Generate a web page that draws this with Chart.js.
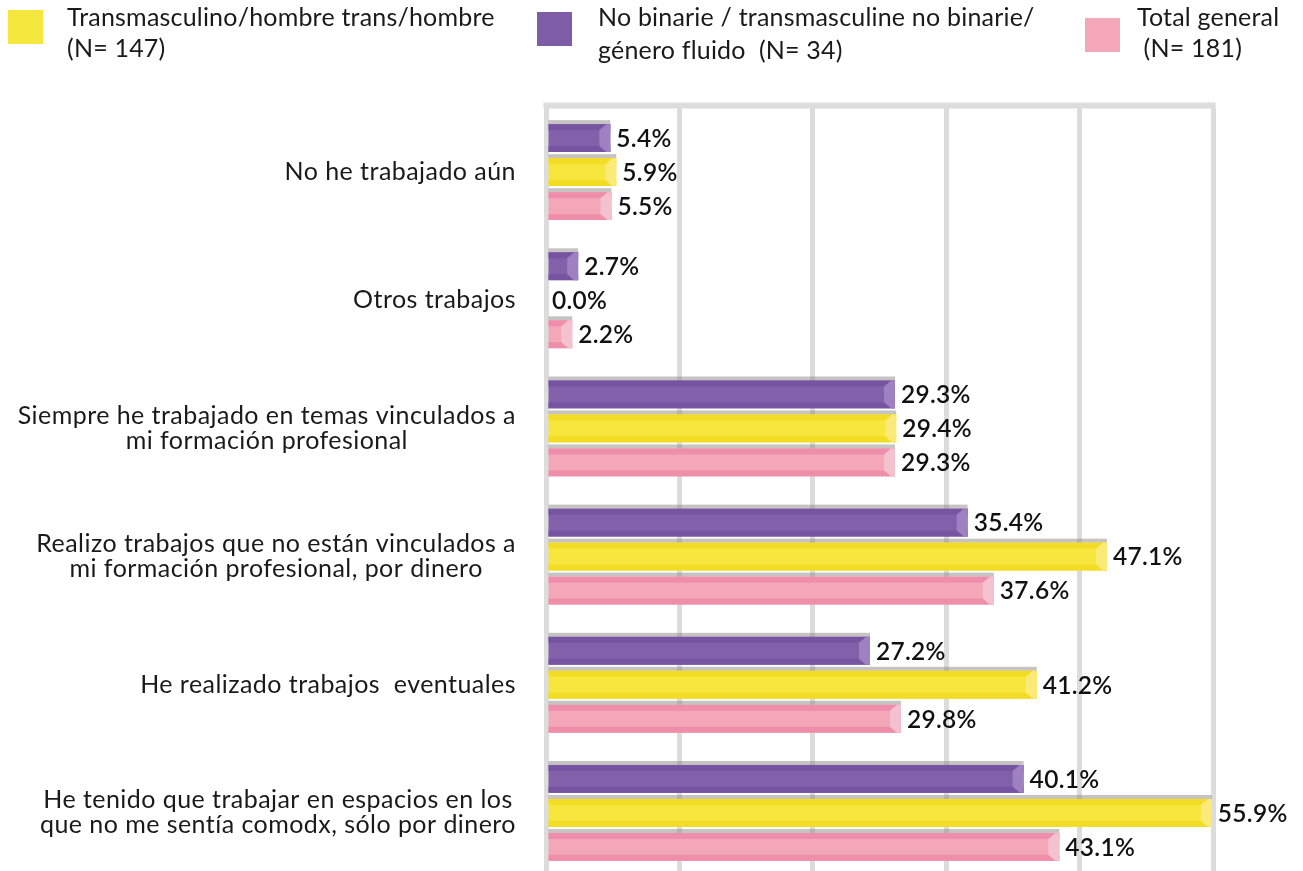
<!DOCTYPE html>
<html>
<head>
<meta charset="utf-8">
<script src="https://cdn.jsdelivr.net/npm/chart.js@4.4.0/dist/chart.umd.min.js"></script>
<style>
  html, body { margin: 0; padding: 0; background: #ffffff; overflow: hidden; }
  #wrap { position: relative; width: 1303px; height: 880px; }
</style>
</head>
<body>
<div id="wrap"><canvas id="c" width="1303" height="880"></canvas></div>
<script>
// Situación laboral: porcentaje por grupo
const categories = [
  ['No he trabajado aún'],
  ['Otros trabajos'],
  ['Siempre he trabajado en temas vinculados a', 'mi formación profesional'],
  ['Realizo trabajos que no están vinculados a', 'mi formación profesional, por dinero'],
  ['He realizado trabajos  eventuales'],
  ['He tenido que trabajar en espacios en los', 'que no me sentía comodx, sólo por dinero']
];
const noBinarie      = [5.4, 2.7, 29.3, 35.4, 27.2, 40.1];
const transmasculino = [5.9, 0.0, 29.4, 47.1, 41.2, 55.9];
const totalGeneral   = [5.5, 2.2, 29.3, 37.6, 29.8, 43.1];

const labelTransmasculino = ['Transmasculino/hombre trans/hombre', '(N= 147)'];
const labelNoBinarie      = ['No binarie / transmasculine no binarie/', 'género fluido  (N= 34)'];
const labelTotal          = ['Total general', ' (N= 181)'];

const gridValues = [0, 11.2, 22.4, 33.6, 44.8, 56];

// Shading for each series: mid band, outer bands, end cap
const palette = {
  purple: { mid: '#8261aa', edge: '#7654a2', cap: '#9d81c0' },
  yellow: { mid: '#f6e63e', edge: '#f2dc24', cap: '#fbe978' },
  pink:   { mid: '#f4a7b9', edge: '#ef8eaa', cap: '#f4c1ce' }
};

const FONT = 'Lato, "Open Sans", sans-serif';

function spaced(ctx, px) {
  if ('letterSpacing' in ctx) ctx.letterSpacing = px + 'px';
}

const barStyle = {
  id: 'barStyle',
  beforeDatasetsDraw(chart) {
    const { ctx } = chart;
    const xs = chart.scales.x;
    const left = xs.getPixelForValue(gridValues[0]) - 2.5;
    const right = xs.getPixelForValue(gridValues[gridValues.length - 1]) + 2.5;
    ctx.save();
    ctx.fillStyle = '#dcdcdc';
    ctx.fillRect(left, chart.chartArea.top - 5.5, right - left, 6);
    ctx.restore();
  },
  afterDatasetsDraw(chart) {
    const { ctx } = chart;
    chart.data.datasets.forEach((ds, di) => {
      const meta = chart.getDatasetMeta(di);
      const col = palette[ds.tone];
      meta.data.forEach((el, i) => {
        const p = el.getProps(['x', 'y', 'base', 'height'], true);
        const top = p.y - p.height / 2;
        const bot = p.y + p.height / 2;
        const x0 = p.base, x1 = p.x;
        const v = ds.data[i];
        ctx.save();
        if (x1 - x0 > 1) {
          // shadow strip along the top
          ctx.fillStyle = 'rgba(140,130,130,0.48)';
          ctx.fillRect(x0, top - 4, x1 - x0, 4);
          // darker outer bands
          ctx.fillStyle = col.edge;
          ctx.fillRect(x0, top, x1 - x0, 6);
          ctx.fillRect(x0, bot - 6, x1 - x0, 6);
          // bevelled end cap
          const cw = Math.min(11, (x1 - x0));
          ctx.fillStyle = col.cap;
          ctx.beginPath();
          ctx.moveTo(x1 - Math.min(4, cw), top);
          ctx.lineTo(x1, top);
          ctx.lineTo(x1, bot);
          ctx.lineTo(x1 - Math.min(4, cw), bot);
          ctx.lineTo(x1 - cw, bot - 6);
          ctx.lineTo(x1 - cw, top + 6);
          ctx.closePath();
          ctx.fill();
        }
        // value label
        ctx.fillStyle = '#111111';
        ctx.font = '600 24.5px ' + FONT;
        spaced(ctx, 0.3);
        ctx.textAlign = 'left';
        ctx.textBaseline = 'middle';
        ctx.fillText(v.toFixed(1) + '%', x1 + 6, p.y + 1);
        ctx.restore();
      });
    });
  },
  afterDraw(chart) {
    const { ctx } = chart;
    const ys = chart.scales.y;
    ctx.save();
    // category labels, lines centred on each other, right edge near the axis
    ctx.fillStyle = '#1a1a1a';
    ctx.font = '25px ' + FONT;
    spaced(ctx, 0.45);
    ctx.textBaseline = 'middle';
    ctx.textAlign = 'center';
    const rightEdge = 516;
    const lh = 25;
    categories.forEach((lines, i) => {
      const yc = ys.getPixelForValue(i);
      const w = Math.max(...lines.map(l => ctx.measureText(l).width));
      const cx = rightEdge - w / 2;
      const y0 = yc - (lines.length - 1) * lh / 2;
      lines.forEach((l, k) => ctx.fillText(l, cx, y0 + k * lh));
    });

    // legend
    const items = [
      { ds: 1, lines: labelTransmasculino, box: [8, 10], text: [67, 18], lh: 31 },
      { ds: 0, lines: labelNoBinarie, box: [537, 12], text: [598, 18], lh: 33 },
      { ds: 2, lines: labelTotal, box: [1085, 18], text: [1137, 18], lh: 31 }
    ];
    ctx.textAlign = 'left';
    ctx.font = '25px ' + FONT;
    spaced(ctx, 0.2);
    items.forEach(it => {
      ctx.fillStyle = chart.data.datasets[it.ds].legendColor;
      ctx.fillRect(it.box[0], it.box[1], 35, 34);
      ctx.fillStyle = '#1a1a1a';
      it.lines.forEach((l, k) => ctx.fillText(l, it.text[0], it.text[1] + k * it.lh));
    });
    ctx.restore();
  }
};

function build() {
  new Chart(document.getElementById('c'), {
    type: 'bar',
    data: {
      labels: categories,
      datasets: [
        { label: labelNoBinarie.join(' '), data: noBinarie, tone: 'purple',
          backgroundColor: palette.purple.mid, legendColor: '#7e5ca6' },
        { label: labelTransmasculino.join(' '), data: transmasculino, tone: 'yellow',
          backgroundColor: palette.yellow.mid, legendColor: '#f6e73e' },
        { label: labelTotal.join(' '), data: totalGeneral, tone: 'pink',
          backgroundColor: palette.pink.mid, legendColor: '#f4a7b9' }
      ]
    },
    options: {
      indexAxis: 'y',
      responsive: false,
      animation: false,
      devicePixelRatio: 1,
      categoryPercentage: 0.796,
      barPercentage: 0.82,
      layout: { padding: { left: 546, right: 90, top: 108, bottom: 3 } },
      plugins: { legend: { display: false }, tooltip: { enabled: false } },
      scales: {
        x: {
          min: 0, max: 56,
          afterBuildTicks(scale) { scale.ticks = gridValues.map(v => ({ value: v })); },
          ticks: { display: false },
          border: { display: false },
          grid: { color: '#dcdcdc', lineWidth: 5, drawTicks: false }
        },
        y: { display: false }
      }
    },
    plugins: [barStyle]
  });
}

if (document.fonts && document.fonts.load) {
  Promise.all([
    document.fonts.load('25px Lato'),
    document.fonts.load('600 24.5px Lato')
  ]).then(build, build);
} else {
  build();
}
</script>
</body>
</html>
